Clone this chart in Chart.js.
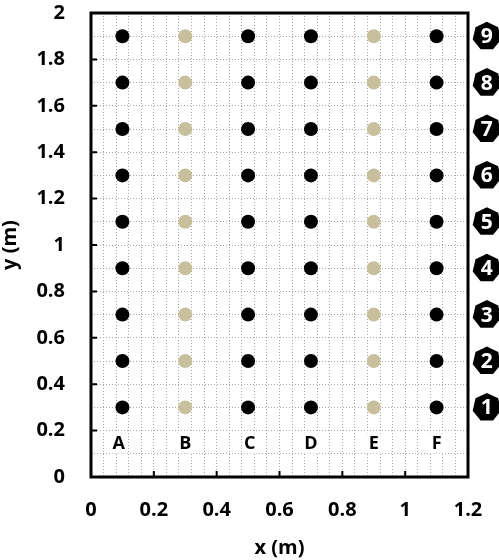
<!DOCTYPE html>
<html>
<head>
<meta charset="utf-8">
<script src="https://cdn.jsdelivr.net/npm/chart.js@4"></script>
<style>
html,body{margin:0;padding:0;background:#fff;}
#wrap{width:499px;height:560px;position:relative;}
</style>
</head>
<body>
<div id="wrap"><canvas id="c" width="499" height="560"></canvas></div>
<script>
// ---- data ----
const rowY = [0.3, 0.5, 0.7, 0.9, 1.1, 1.3, 1.5, 1.7, 1.9];
const rowLabels = ['1','2','3','4','5','6','7','8','9'];
const blackColsX = [0.1, 0.5, 0.7, 1.1];
const tanColsX = [0.3, 0.9];
const colLabels = ['A','B','C','D','E','F'];
const colLabelX = [0.088, 0.3, 0.505, 0.7, 0.9, 1.1];
const colLabelY = 0.145;
const rowBadgeX = 1.26;
const xTickLabels = ['0','0.2','0.4','0.6','0.8','1','1.2'];
const yTickLabels = ['0','0.2','0.4','0.6','0.8','1','1.2','1.4','1.6','1.8','2'];

const FONT = '"Open Sans", "DejaVu Sans", sans-serif';

function grid(cols, rows){
  const out = [];
  cols.forEach(x => rows.forEach(y => out.push({x, y})));
  return out;
}

const framePlugin = {
  id: 'frame',
  afterDatasetsDraw(chart){
    const ctx = chart.ctx;
    const xs = chart.scales.x, ys = chart.scales.y;
    const a = chart.chartArea;
    ctx.save();
    // column labels with white background
    ctx.font = 'bold 18px ' + FONT;
    ctx.textAlign = 'center';
    ctx.textBaseline = 'middle';
    colLabels.forEach((t, i) => {
      const px = xs.getPixelForValue(colLabelX[i]);
      const py = ys.getPixelForValue(colLabelY);
      const w = ctx.measureText(t).width;
      ctx.fillStyle = '#fff';
      ctx.fillRect(px - w/2 - 2, py - 10, w + 4, 20);
      ctx.fillStyle = '#000';
      ctx.fillText(t, px, py + 1);
    });
    // frame
    ctx.strokeStyle = '#000';
    ctx.lineWidth = 3;
    ctx.strokeRect(a.left, a.top, a.right - a.left, a.bottom - a.top);
    // inward ticks
    ctx.lineWidth = 2;
    ctx.beginPath();
    xTickLabels.forEach(l => {
      const px = xs.getPixelForValue(parseFloat(l));
      if (px > a.left + 2 && px < a.right - 2) {
        ctx.moveTo(px, a.bottom); ctx.lineTo(px, a.bottom - 6);
      }
    });
    yTickLabels.forEach(l => {
      const py = ys.getPixelForValue(parseFloat(l));
      if (py > a.top + 2 && py < a.bottom - 2) {
        ctx.moveTo(a.left, py); ctx.lineTo(a.left + 6, py);
      }
    });
    ctx.stroke();
    // row badges (heptagons)
    rowY.forEach((y, i) => {
      const cx = xs.getPixelForValue(rowBadgeX);
      const cy = ys.getPixelForValue(y);
      const r = 14.5;
      ctx.beginPath();
      for (let k = 0; k < 7; k++) {
        const ang = -Math.PI/2 + k * 2 * Math.PI / 7;
        const px = cx + r * Math.cos(ang), py = cy + r * Math.sin(ang);
        if (k === 0) ctx.moveTo(px, py); else ctx.lineTo(px, py);
      }
      ctx.closePath();
      ctx.fillStyle = '#000';
      ctx.fill();
      ctx.fillStyle = '#fff';
      ctx.font = 'bold 21px ' + FONT;
      ctx.textAlign = 'center';
      ctx.textBaseline = 'middle';
      ctx.fillText(rowLabels[i], cx, cy + 1);
    });
    ctx.restore();
  }
};

const gridOpts = {display:true, color:'#a8a8a8', lineWidth:1, drawTicks:false};

new Chart(document.getElementById('c'), {
  type: 'scatter',
  data: {
    datasets: [
      {label:'black', data: grid(blackColsX, rowY), backgroundColor:'#000', borderColor:'#000', pointRadius:7, pointHoverRadius:7, borderWidth:0},
      {label:'tan', data: grid(tanColsX, rowY), backgroundColor:'#C8BF9C', borderColor:'#C8BF9C', pointRadius:7, pointHoverRadius:7, borderWidth:0}
    ]
  },
  options: {
    responsive:false,
    animation:false,
    devicePixelRatio:1,
    layout:{padding:{top:13, right:31, left:0, bottom:0}},
    plugins:{legend:{display:false}, tooltip:{enabled:false}},
    scales:{
      x:{
        type:'linear', min:0, max:1.2,
        afterFit(s){ s.height = 83; s.paddingLeft = 0; s.paddingRight = 0; },
        grid: Object.assign({}, gridOpts),
        border:{display:false, dash:[1,2]},
        ticks:{
          stepSize:0.04, autoSkip:false, maxRotation:0, padding:21,
          color:'#000', font:{family:FONT, size:20, weight:'bold'},
          callback(v, i){ return i % 5 === 0 ? xTickLabels[i/5] : ''; }
        },
        title:{display:true, text:'x (m)', color:'#000', font:{family:FONT, size:20, weight:'bold', lineHeight:1.2}, padding:{top:0, bottom:0}}
      },
      y:{
        type:'linear', min:0, max:2,
        afterFit(s){ s.width = 91; s.paddingTop = 0; s.paddingBottom = 0; },
        grid: Object.assign({}, gridOpts),
        border:{display:false, dash:[1,2]},
        ticks:{
          stepSize:0.1, autoSkip:false, padding:26,
          color:'#000', font:{family:FONT, size:20, weight:'bold'},
          callback(v, i){ return i % 2 === 0 ? yTickLabels[i/2] : ''; }
        },
        title:{display:true, text:'y (m)', color:'#000', font:{family:FONT, size:20, weight:'bold', lineHeight:1}, padding:{top:0, bottom:0}}
      }
    }
  },
  plugins:[framePlugin]
});
</script>
</body>
</html>
